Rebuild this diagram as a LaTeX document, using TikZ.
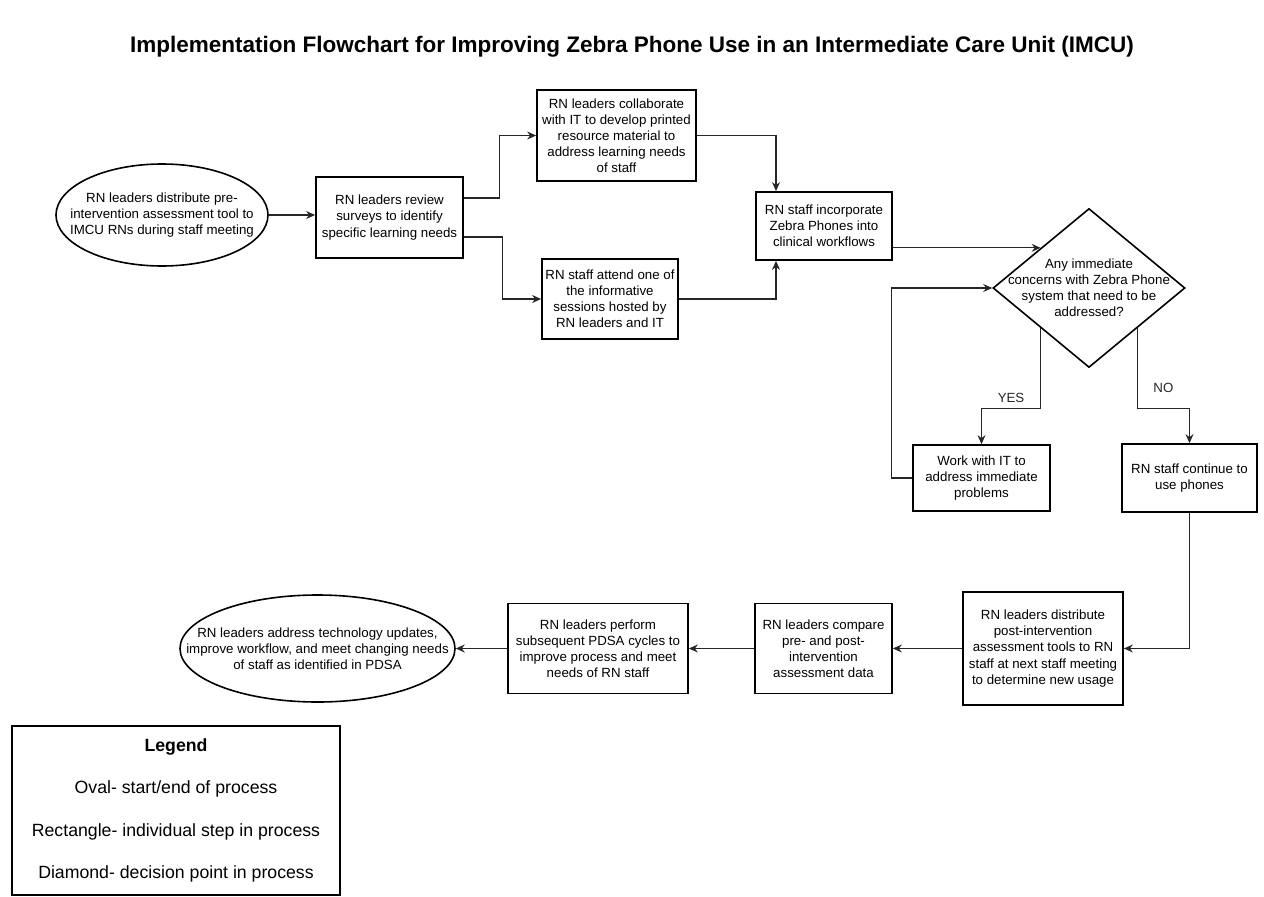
\documentclass[tikz,border=0pt]{standalone}
\usepackage{fontspec}
\setmainfont{Liberation Sans}
\usetikzlibrary{shapes.geometric, arrows.meta}

\tikzset{
  flowtext/.style={font=\fontsize{13.3}{16.1}\selectfont, align=center},
  stepbox/.style={draw, line width=1.8pt, flowtext, inner sep=0pt},
  endoval/.style={draw, ellipse, line width=1.6pt, inner sep=0pt},
  decision/.style={draw, diamond, line width=1.6pt, inner sep=0pt},
  flow/.style={-{Stealth[length=9pt, width=8pt, inset=3pt]}, line width=1.1pt, black!85},
}

\begin{document}
\begin{tikzpicture}[x=1pt, y=-1pt]
\useasboundingbox (0,0) rectangle (1264,897);

\node[font=\fontsize{22.5}{27}\selectfont\bfseries] (title) at (632,47)
  {Implementation Flowchart for Improving Zebra Phone Use in an Intermediate Care Unit (IMCU)};

\node[endoval, minimum width=212pt, minimum height=102pt,
      label={[flowtext]center:{RN leaders distribute pre-\\intervention assessment tool to\\IMCU RNs during staff meeting}}]
  (start) at (162,215) {};
\node[stepbox, minimum width=147pt, minimum height=81pt] (review) at (389.5,217.5)
  {RN leaders review\\surveys to identify\\specific learning needs};
\node[stepbox, minimum width=159pt, minimum height=91pt] (collab) at (616.5,135.5)
  {RN leaders collaborate\\with IT to develop printed\\resource material to\\address learning needs\\of staff};
\node[stepbox, minimum width=136pt, minimum height=80pt] (attend) at (610,299)
  {RN staff attend one of\\the informative\\sessions hosted by\\RN leaders and IT};
\node[stepbox, minimum width=136pt, minimum height=68pt] (incorp) at (824,226)
  {RN staff incorporate\\Zebra Phones into\\clinical workflows};
\node[decision, minimum width=192pt, minimum height=159pt,
      label={[flowtext]center:{Any immediate\\concerns with Zebra Phone\\system that need to be\\addressed?}}]
  (dec) at (1089,288) {};
\node[stepbox, minimum width=137pt, minimum height=66pt] (work) at (981.5,478)
  {Work with IT to\\address immediate\\problems};
\node[stepbox, minimum width=135pt, minimum height=68pt] (cont) at (1189.5,478)
  {RN staff continue to\\use phones};
\node[stepbox, minimum width=160pt, minimum height=113pt] (distr) at (1043,648.5)
  {RN leaders distribute\\post-intervention\\assessment tools to RN\\staff at next staff meeting\\to determine new usage};
\node[stepbox, minimum width=137pt, minimum height=90pt] (compare) at (823.5,648.5)
  {RN leaders compare\\pre- and post-\\intervention\\assessment data};
\node[stepbox, minimum width=180pt, minimum height=90pt] (perform) at (598,648.5)
  {RN leaders perform\\subsequent PDSA cycles to\\improve process and meet\\needs of RN staff};
\node[endoval, minimum width=275pt, minimum height=107pt,
      label={[flowtext]center:{RN leaders address technology updates,\\improve workflow, and meet changing needs\\of staff as identified in PDSA}}]
  (finish) at (317.5,648.5) {};

\draw[flow] (start.east) -- (start.east -| review.west);
\draw[flow] ([yshift=19.5pt]review.east) -- ++(36,0) |- (collab.west);
\draw[flow] ([yshift=-19.5pt]review.east) -- ++(39,0) |- (attend.west);
\draw[flow] (collab.east) -| ([xshift=-48pt]incorp.north);
\draw[flow] (attend.east) -| ([xshift=-48pt]incorp.south);
\draw[flow] (incorp.east |- dec.north west) -- (dec.north west);
\draw[flow] (dec.south west) -- ++(0,80) -| node[flowtext, pos=0.25, above=2pt] {YES} (work.north);
\draw[flow] (dec.south east) -- ++(0,80) -| node[flowtext, pos=0.25, above=12pt] {NO} (cont.north);
\draw[flow] (work.west) -- ++(-21,0) |- (dec.west);
\draw[flow] (cont.south) |- (distr.east);
\draw[flow] (distr.west) -- (compare.east);
\draw[flow] (compare.west) -- (perform.east);
\draw[flow] (perform.west) -- (finish.east);

\node[draw, line width=1.8pt, minimum width=328pt, minimum height=169pt, align=center,
      font=\fontsize{17.7}{42.5}\selectfont] (legend) at (176,810.5)
  {\textbf{Legend}\\Oval- start/end of process\\Rectangle- individual step in process\\Diamond- decision point in process};
\end{tikzpicture}
\end{document}
